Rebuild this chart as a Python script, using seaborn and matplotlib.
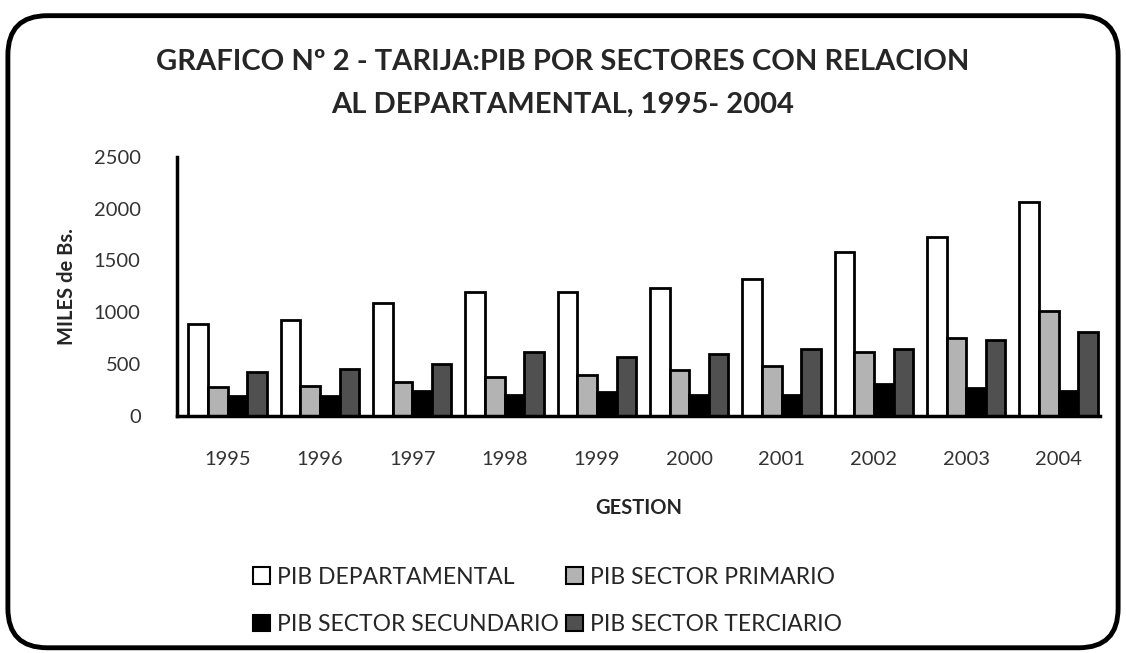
import matplotlib
matplotlib.use("Agg")
import matplotlib.pyplot as plt
import seaborn as sns
import pandas as pd
from matplotlib.patches import FancyBboxPatch, Patch

years = ["1995", "1996", "1997", "1998", "1999", "2000", "2001", "2002", "2003", "2004"]
pib_departamental = [890, 925, 1085, 1200, 1195, 1235, 1320, 1580, 1725, 2065]
pib_primario = [275, 285, 325, 375, 395, 440, 480, 620, 755, 1015]
pib_secundario = [195, 195, 245, 205, 230, 205, 205, 310, 265, 245]
pib_terciario = [420, 450, 505, 620, 565, 595, 650, 650, 730, 805]
series_names = ["PIB DEPARTAMENTAL", "PIB SECTOR PRIMARIO", "PIB SECTOR SECUNDARIO", "PIB SECTOR TERCIARIO"]
colors = ["#ffffff", "#b3b3b3", "#000000", "#505050"]

rows = []
for name, vals in zip(series_names, [pib_departamental, pib_primario, pib_secundario, pib_terciario]):
    for y, v in zip(years, vals):
        rows.append({"GESTION": y, "Serie": name, "Valor": v})
df = pd.DataFrame(rows)

sns.set_style("white")
plt.rcParams['font.family'] = ['Lato', 'DejaVu Sans']

fig = plt.figure(figsize=(11.26, 6.53), dpi=100)
ax = fig.add_axes([0.157, 0.363, 0.820, 0.397])

sns.barplot(data=df, x="GESTION", y="Valor", hue="Serie", hue_order=series_names,
            palette=colors, width=0.85, gap=0, edgecolor="black", linewidth=2,
            ax=ax, legend=False)

ax.set_ylim(0, 2500)
ax.set_yticks([0, 500, 1000, 1500, 2000, 2500])
ax.set_xlim(-0.55, 9.45)
for s in ["top", "right"]:
    ax.spines[s].set_visible(False)
for s in ["left", "bottom"]:
    ax.spines[s].set_color("black")
    ax.spines[s].set_linewidth(2.5)
ax.tick_params(axis="both", length=0, labelsize=14.5, colors="#333333")
ax.tick_params(axis="x", pad=25)
ax.tick_params(axis="y", pad=26)
ax.set_xlabel("GESTION", fontsize=14.5, fontweight="bold", labelpad=22)
ax.set_ylabel("MILES de Bs.", fontsize=14.5, fontweight="bold", labelpad=12)

fig.text(0.5, 0.905, "GRAFICO Nº 2 - TARIJA:PIB POR SECTORES CON RELACION",
         ha="center", va="center", fontsize=21, fontweight="bold")
fig.text(0.5, 0.840, "AL DEPARTAMENTAL, 1995- 2004",
         ha="center", va="center", fontsize=21, fontweight="bold")

handles = [Patch(facecolor=c, edgecolor="black", linewidth=1.5) for c in colors]
order = [0, 2, 1, 3]
fig.legend([handles[i] for i in order], [series_names[i] for i in order], ncol=2,
           loc="center", bbox_to_anchor=(0.486, 0.08),
           frameon=False, fontsize=16.5, handlelength=0.75, handleheight=0.75,
           handletextpad=0.3, columnspacing=0.3, labelspacing=1.15)

frame = FancyBboxPatch((0.007, 0.008), 0.986, 0.968, boxstyle="round,pad=0,rounding_size=0.035",
                       transform=fig.transFigure, fill=False, edgecolor="black", linewidth=3.5,
                       mutation_aspect=1126/653)
fig.patches.append(frame)

fig.savefig("out.png", dpi=100)
